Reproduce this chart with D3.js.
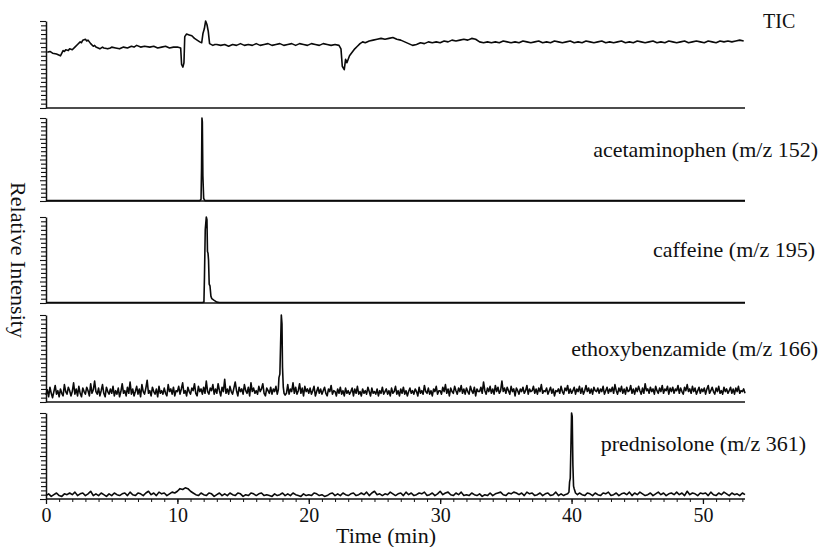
<!DOCTYPE html>
<html>
<head>
<meta charset="utf-8">
<script src="https://cdnjs.cloudflare.com/ajax/libs/d3/7.8.5/d3.min.js"></script>
<style>
  body { margin: 0; background: #fff; }
  svg text { font-family: "Liberation Serif", "DejaVu Serif", "Times New Roman", serif; fill: #111; }
</style>
</head>
<body>
<svg id="chart" width="822" height="547"></svg>
<script>
// time axis (min)
var timeMax = 53.2;
var xTickLabels = [0, 10, 20, 30, 40, 50];
var panelNames = ["TIC", "acetaminophen (m/z 152)", "caffeine (m/z 195)", "ethoxybenzamide (m/z 166)", "prednisolone (m/z 361)"];
var serif = '"Liberation Serif", "DejaVu Serif", "Times New Roman", serif';

// [time, relative intensity %]
var ticTrace = [[0.1,64],[0.3,65],[0.5,63],[0.8,62],[1.1,60],[1.3,66],[1.4,65],[1.5,67],[1.7,66],[1.8,68],[2.0,67],[2.2,70],[2.4,73],[2.6,76],[2.7,75],[2.8,78],[3.0,79],[3.1,77],[3.2,78],[3.4,74],[3.6,71],[3.7,72],[3.8,70],[4.1,68],[4.3,70],[4.4,69],[4.7,68],[4.9,69],[5.0,70],[5.3,69],[5.6,68],[5.9,70],[6.2,69],[6.5,71],[6.7,70],[6.9,72],[7.2,70],[7.5,71],[7.9,70],[8.2,71],[8.5,69],[8.8,70],[9.1,71],[9.4,69],[9.7,70],[10.0,70],[10.25,69],[10.32,50],[10.42,47],[10.5,52],[10.56,82],[10.7,85],[10.9,84],[11.1,83],[11.3,80],[11.5,78],[11.7,76],[11.85,75],[11.95,86],[12.05,91],[12.15,100],[12.25,96],[12.35,88],[12.45,74],[12.7,72],[12.85,73],[13.0,73],[13.3,72],[13.6,73],[13.9,71],[14.2,73],[14.5,72],[14.8,74],[15.1,72],[15.4,73],[15.7,72],[16.0,74],[16.3,72],[16.6,73],[16.9,74],[17.2,72],[17.5,73],[17.8,74],[18.1,72],[18.4,73],[18.7,74],[19.0,72],[19.3,74],[19.6,73],[19.9,72],[20.2,74],[20.5,73],[20.8,72],[21.1,74],[21.4,73],[21.7,72],[22.0,73],[22.3,72],[22.45,68],[22.55,48],[22.7,44],[22.8,56],[22.9,52],[23.1,60],[23.3,64],[23.5,68],[23.7,71],[23.9,74],[24.1,76],[24.3,75],[24.6,77],[24.9,78],[25.2,79],[25.5,80],[25.8,79],[26.1,80],[26.4,81],[26.7,79],[27.0,78],[27.3,76],[27.6,74],[27.9,72],[28.2,73],[28.5,75],[28.8,74],[29.1,76],[29.4,75],[29.7,76],[30.0,75],[30.3,77],[30.6,76],[30.9,78],[31.2,77],[31.5,78],[31.8,79],[32.1,78],[32.4,80],[32.7,79],[33.0,76],[33.3,75],[33.6,76],[33.9,75],[34.2,76],[34.5,75],[34.8,77],[35.1,76],[35.4,75],[35.7,76],[36.0,75],[36.3,77],[36.6,76],[36.9,75],[37.2,76],[37.5,77],[37.8,75],[38.1,76],[38.4,75],[38.7,77],[39.0,76],[39.3,75],[39.6,76],[39.9,77],[40.2,75],[40.5,76],[40.8,75],[41.1,77],[41.4,76],[41.7,75],[42.0,76],[42.3,77],[42.6,75],[42.9,76],[43.2,75],[43.5,76],[43.8,77],[44.1,75],[44.4,76],[44.7,75],[45.0,77],[45.3,76],[45.6,75],[45.9,76],[46.2,77],[46.5,75],[46.8,76],[47.1,75],[47.4,77],[47.7,76],[48.0,75],[48.3,76],[48.6,77],[48.9,75],[49.2,76],[49.5,77],[49.8,76],[50.1,75],[50.4,77],[50.7,76],[51.0,75],[51.3,77],[51.6,76],[51.9,77],[52.2,76],[52.5,77],[52.8,78],[53.1,77]];

var acetaminophenTrace = [[0,0.5],[11.7,0.5],[11.8,2],[11.84,40],[11.87,100],[11.9,95],[11.94,30],[12.0,3],[12.1,0.5],[53.2,0.5]];

var caffeineTrace = [[0,0.5],[11.9,0.5],[12.02,1],[12.06,30],[12.12,85],[12.2,100],[12.25,97],[12.29,60],[12.33,58],[12.37,50],[12.42,22],[12.48,20],[12.55,8],[12.62,5],[12.8,3],[13.0,1],[13.2,0.5],[53.2,0.5]];

// baseline noise, ethoxybenzamide sampled every 0.1 min
var ethoxyStep = 0.1;
var ethoxyNoise = [8,14,6,17,10,5,12,19,9,13, 6,15,10,7,20,12,9,17,13,7, 12,22,9,15,7,18,10,6,16,12, 9,17,13,7,21,10,14,24,12,9,
  16,7,13,20,10,6,17,12,9,15, 10,18,7,13,9,16,6,12,21,10, 13,7,17,10,23,9,15,7,12,18, 9,15,6,20,12,9,16,25,10,13,
  7,17,12,9,15,6,18,10,13,9, 16,10,7,20,12,15,9,17,7,13, 12,18,9,15,22,10,13,7,17,12, 9,16,13,21,10,7,18,12,15,9,
  17,10,24,12,9,16,13,20,9,15, 10,21,13,7,17,12,26,10,15,9, 18,12,9,16,23,13,7,17,12,15, 9,20,13,10,17,7,22,12,16,10,
  13,9,18,12,15,21,10,7,16,13, 10,17,9,15,12,18,7,13,10,9, 12,7,16,10,20,9,15,12,22,10, 17,9,13,21,10,16,7,18,12,15,
  10,16,9,13,18,7,12,17,10,15, 9,13,17,10,7,15,12,19,9,13, 12,7,15,10,17,9,13,7,16,10, 13,9,12,16,7,15,10,18,9,12,
  7,15,10,13,9,17,12,7,16,10, 12,9,15,7,13,10,17,9,12,15, 9,13,7,16,10,12,18,9,13,7, 15,10,17,9,13,7,12,16,10,13,
  9,15,12,7,17,10,13,9,19,12, 10,16,9,13,7,15,12,18,9,13, 13,9,17,12,20,10,15,7,16,12, 10,18,13,9,16,12,19,10,15,9,
  16,12,9,18,13,10,17,7,15,12, 12,17,10,23,13,9,16,12,18,10, 15,9,19,12,17,10,13,24,12,16, 10,17,13,9,18,12,15,7,16,13,
  9,15,12,17,10,13,19,9,15,12, 13,18,10,15,9,16,12,20,10,13, 12,16,9,13,17,10,15,7,13,12, 15,10,18,12,9,16,13,19,10,15,
  10,13,17,9,15,12,18,10,16,9, 13,19,12,16,10,15,9,17,13,12, 16,10,15,12,18,9,13,17,10,15, 12,17,10,20,13,9,16,12,18,10,
  15,9,17,12,13,19,10,15,9,16, 12,18,13,9,16,10,21,13,15,10, 17,12,15,9,18,13,10,16,12,19, 10,15,13,18,9,16,12,17,10,15,
  13,19,10,16,12,9,17,13,20,12, 15,10,18,12,16,9,13,17,10,15, 12,16,9,15,19,10,13,17,12,9, 16,12,18,10,13,9,17,12,15,10,
  13,17,10,15,9,16,12,18,10,13, 12,15,10];
var ethoxyPeak = [[17.6,9],[17.68,14],[17.73,28],[17.8,32],[17.86,70],[17.91,100],[17.96,90],[18.0,40],[18.06,17],[18.12,10],[18.2,8]];

// prednisolone sampled every 0.2 min
var prednisoloneStep = 0.2;
var prednisoloneNoise = [4,6,3,5,7,4,3,6,5,7, 5,8,4,6,7,4,6,9,4,6, 4,7,5,3,6,4,7,5,4,6, 7,4,8,5,4,7,6,4,7,9,
  5,7,4,8,6,7,4,6,8,7, 9,12,11,13,12,9,7,5,4,7, 5,4,7,6,3,5,7,4,6,4, 7,5,4,7,6,3,5,4,7,6,
  4,6,7,4,5,4,3,6,4,5, 7,4,6,4,7,5,4,3,6,4, 5,4,7,6,4,5,3,4,6,7, 4,6,4,7,5,4,6,7,4,5,
  7,5,8,4,7,9,5,6,4,6, 5,8,6,4,6,7,4,8,5,7, 4,5,7,6,8,4,5,7,4,6, 9,5,7,8,5,4,7,5,8,4,
  5,4,7,5,4,6,3,5,4,7, 4,6,7,8,5,4,7,6,8,7, 5,7,4,8,6,7,4,5,7,4, 6,7,4,5,8,4,6,4,5,7,
  5,8,4,7,5,4,7,6,4,7, 5,4,7,6,8,4,5,7,4,6, 7,5,8,4,7,5,8,6,4,5, 7,4,6,8,5,7,4,6,7,5,
  8,5,7,4,9,5,7,6,4,7, 6,7,4,8,5,4,7,5,8,6, 4,7,5,6,4,7,5];
var prednisolonePeak = [[39.5,5],[39.7,6],[39.8,8],[39.85,20],[39.9,24],[39.95,60],[40.0,100],[40.05,96],[40.1,40],[40.15,15],[40.2,12],[40.3,7],[40.45,5]];

function withPeak(noise, step, peak) {
    var lo = peak[0][0], hi = peak[peak.length - 1][0];
    var pts = noise.map(function (v, i) { return [i * step, v]; })
        .filter(function (d) { return d[0] < lo || d[0] > hi; });
    return pts.concat(peak).sort(function (a, b) { return a[0] - b[0]; });
}

var traces = [ticTrace, acetaminophenTrace, caffeineTrace,
    withPeak(ethoxyNoise, ethoxyStep, ethoxyPeak), withPeak(prednisoloneNoise, prednisoloneStep, prednisolonePeak)];

// layout of the stacked panels
var panelTop = [21, 118, 217, 315, 413],
    panelBottom = [108, 201, 303, 402, 499],
    labelPos = [[763, 28, "start", 20], [818, 157, "end", 22], [815, 257, "end", 22], [818, 356, "end", 22], [806, 451, "end", 22]];

var svg = d3.select("#chart");

var x = d3.scaleLinear().domain([0, timeMax]).range([46, 745]);

traces.forEach(function (data, i) {
    var y = d3.scaleLinear().domain([0, 100]).range([panelBottom[i], panelTop[i]]);

    // left axis with dense minor ticks
    var ya = svg.append("g")
        .attr("transform", "translate(" + x(0) + ",0)")
        .call(d3.axisLeft(y).tickValues(d3.range(0, 101, 5)).tickFormat("").tickSize(5).tickSizeOuter(0));
    ya.selectAll("line").attr("stroke", "#111").attr("stroke-width", 1.1);
    ya.select(".domain").attr("stroke", "#111").attr("stroke-width", 1.5);
    ya.selectAll(".tick line").filter(function (d) { return d % 25 === 0; }).attr("x2", -6);

    // baseline
    svg.append("line")
        .attr("x1", x(0)).attr("x2", x(timeMax))
        .attr("y1", y(0)).attr("y2", y(0))
        .attr("stroke", "#111").attr("stroke-width", 1.5);

    var line = d3.line()
        .x(function (d) { return x(d[0]); })
        .y(function (d) { return y(d[1]); });

    svg.append("path")
        .attr("fill", "none")
        .attr("stroke", "#0a0a0a")
        .attr("stroke-width", 1.6)
        .attr("stroke-linejoin", "round")
        .attr("d", line(data));

    svg.append("text")
        .attr("x", labelPos[i][0])
        .attr("y", labelPos[i][1])
        .attr("text-anchor", labelPos[i][2])
        .style("font-family", serif)
        .style("font-size", labelPos[i][3] + "px")
        .text(panelNames[i]);
});

// time axis under the last panel
var yb = panelBottom[4];
var minor = svg.append("g")
    .attr("transform", "translate(0," + yb + ")")
    .call(d3.axisBottom(x).tickValues(d3.range(0, 54, 1)).tickFormat("").tickSize(3).tickSizeOuter(0));
minor.select(".domain").remove();
minor.selectAll("line").attr("stroke", "#111");

var major = svg.append("g")
    .attr("transform", "translate(0," + yb + ")")
    .call(d3.axisBottom(x).tickValues(xTickLabels).tickSize(5).tickPadding(4).tickSizeOuter(0));
major.select(".domain").remove();
major.selectAll("line").attr("stroke", "#111").attr("stroke-width", 1.3);
major.selectAll("text")
    .style("font-family", serif)
    .style("font-size", "20px")
    .attr("fill", "#111");

svg.append("text")
    .attr("x", 386)
    .attr("y", 543)
    .attr("text-anchor", "middle")
    .style("font-family", serif)
    .style("font-size", "22px")
    .text("Time (min)");

svg.append("text")
    .attr("transform", "translate(11,260) rotate(90)")
    .attr("text-anchor", "middle")
    .style("font-family", serif)
    .style("font-size", "22px")
    .text("Relative Intensity");
</script>
</body>
</html>
